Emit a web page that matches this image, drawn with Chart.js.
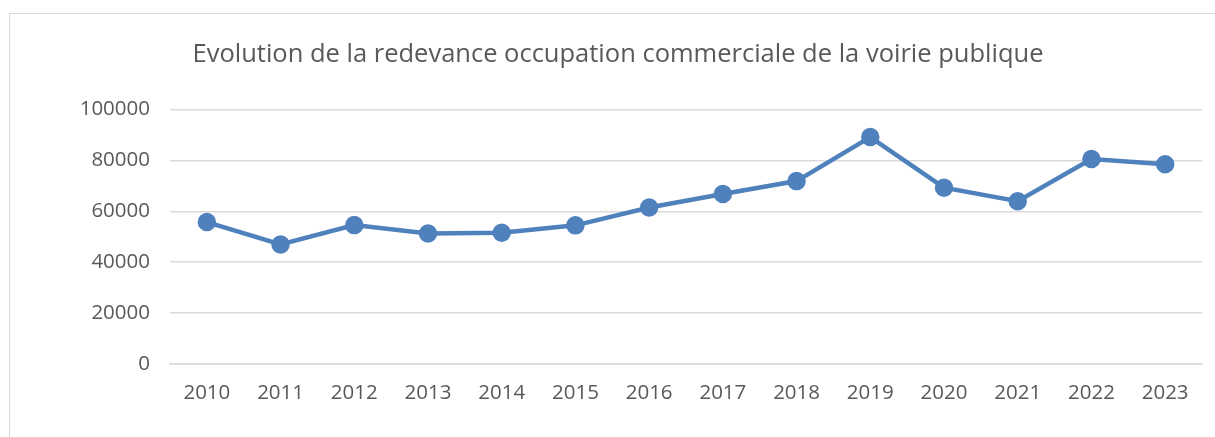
<!DOCTYPE html>
<html>
<head>
<script src="https://cdn.jsdelivr.net/npm/chart.js"></script>
<style>
  body { margin: 0; background: #ffffff; }
  #frame { position: absolute; left: 9px; top: 13px; width: 1220px; height: 440px; border: 1.5px solid #d9d9d9; box-sizing: border-box; }
  #wrap { position: absolute; left: 0; top: 0; width: 1215px; height: 437px; }
</style>
</head>
<body>
<div id="frame"></div>
<div id="wrap"><canvas id="myChart" width="1215" height="437"></canvas></div>
<script>
// données
const annees = ['2010','2011','2012','2013','2014','2015','2016','2017','2018','2019','2020','2021','2022','2023'];
const redevance = [55800, 47000, 54600, 51300, 51600, 54500, 61500, 66800, 71900, 89200, 69300, 64000, 80600, 78500];
const titre = 'Evolution de la redevance occupation commerciale de la voirie publique';

const gris = '#595959';
const police = "'Open Sans', 'Noto Sans', sans-serif";

new Chart(document.getElementById('myChart'), {
  type: 'line',
  data: {
    labels: annees,
    datasets: [{
      data: redevance,
      borderColor: '#4f81bd',
      backgroundColor: '#4f81bd',
      borderWidth: 4.5,
      pointRadius: 7,
      pointHoverRadius: 7,
      tension: 0
    }]
  },
  options: {
    responsive: false,
    animation: false,
    layout: { padding: { left: 34, right: 13, top: 0, bottom: 0 } },
    plugins: {
      legend: { display: false },
      tooltip: { enabled: false },
      title: {
        display: true,
        text: titre,
        color: gris,
        font: { family: police, size: 25.5, weight: 'normal', lineHeight: 1.2 },
        padding: { top: 39, bottom: 40 }
      }
    },
    scales: {
      x: {
        offset: true,
        grid: { display: false, drawTicks: false },
        border: { display: true, color: '#d9d9d9', width: 1.5 },
        ticks: { color: gris, font: { family: police, size: 20.5 }, padding: 17, maxRotation: 0 },
        afterFit: s => { s.height = 437 - 364; }
      },
      y: {
        min: 0,
        max: 100000,
        grid: { color: '#d9d9d9', lineWidth: 1.5, drawTicks: false },
        border: { display: false },
        ticks: { stepSize: 20000, color: gris, font: { family: police, size: 20.5 }, padding: 20,
                 callback: v => String(v) },
        afterFit: s => { s.width = 136; }
      }
    }
  }
});
</script>
</body>
</html>
